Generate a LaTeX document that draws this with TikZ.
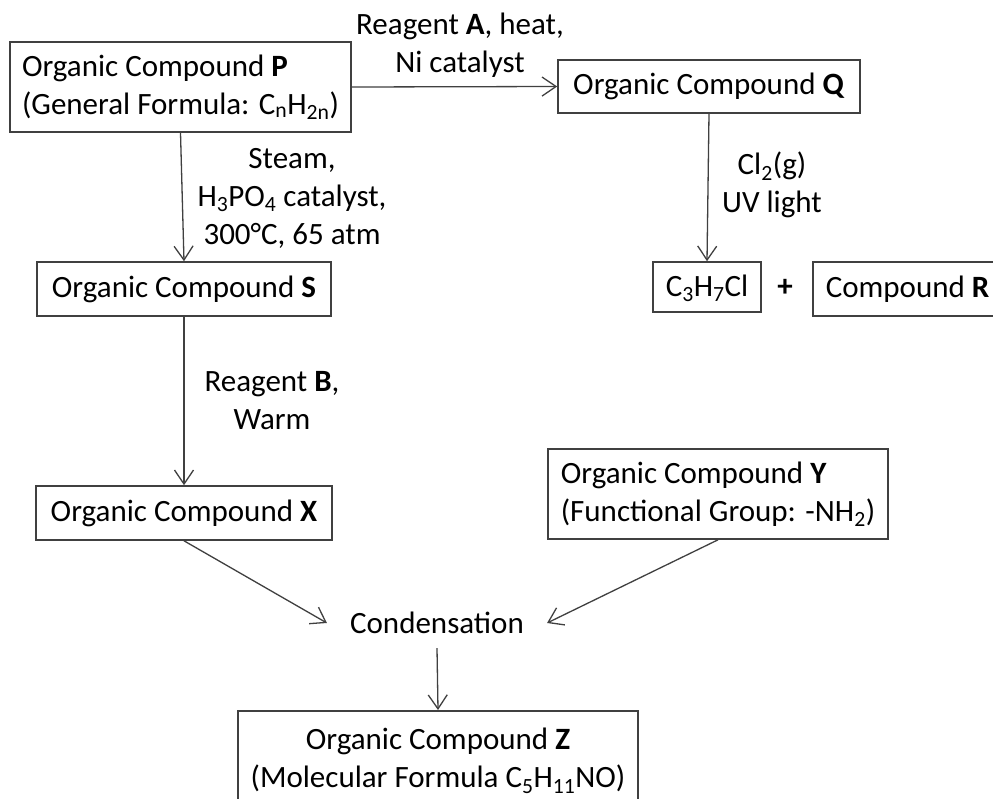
\documentclass[tikz,border=0pt]{standalone}
\usepackage{fontspec}
\setmainfont{Carlito}
\usetikzlibrary{arrows.meta}
\definecolor{lineg}{HTML}{404040}
\begin{document}
\begin{tikzpicture}[x=1pt,y=-1pt,
  every node/.style={font=\fontsize{31}{38}\selectfont, text=black},
  box/.style={draw=lineg, line width=1.6pt, inner sep=0pt},
  lbl/.style={align=center, inner sep=0pt},
  arr/.style={draw=lineg, line width=1.3pt, -{Straight Barb[length=14pt,width=19pt,line width=1.3pt]}}]
\useasboundingbox (0,0) rectangle (993,798);
\clip (0,0) rectangle (993,798);
\fill[white] (0,0) rectangle (993,798);
% boxes
\node[box, minimum width=341pt, minimum height=90pt, align=left] (P) at (180.5,87)
  {Organic Compound \textbf{P}\\(General Formula: C\textsubscript{n}H\textsubscript{2n})};
\node[box, minimum width=302pt, minimum height=53pt] (Q) at (709,86.5) {Organic Compound \textbf{Q}};
\node[box, minimum width=294pt, minimum height=54pt] (S) at (184,289) {Organic Compound \textbf{S}};
\node[box, minimum width=108pt, minimum height=50pt, text height=21pt, text depth=3pt] (C) at (707,287) {C\textsubscript{3}H\textsubscript{7}Cl};
\node[inner sep=0pt] (plus) at (785,288) {\textbf{+}};
\node[box, anchor=west, minimum height=54pt, inner xsep=13pt, inner ysep=0pt] (R) at (812,289) {Compound \textbf{R}\hspace{40pt}};
\node[box, minimum width=296pt, minimum height=54pt] (X) at (184,513) {Organic Compound \textbf{X}};
\node[box, minimum width=340pt, minimum height=90pt, align=left] (Y) at (718,494)
  {Organic Compound \textbf{Y}\\(Functional Group: -NH\textsubscript{2})};
\node[inner xsep=23pt, inner ysep=14pt] (cond) at (437,623) {Condensation};
\node[box, anchor=north, minimum width=400pt, minimum height=100pt, align=center] (Z) at (438,710)
  {Organic Compound \textbf{Z}\\(Molecular Formula C\textsubscript{5}H\textsubscript{11}NO)};
% labels
\node[lbl] (lA) at (460,45) {Reagent \textbf{A}, heat,\\Ni catalyst};
\node[lbl] (lSteam) at (292,198) {Steam,\\H\textsubscript{3}PO\textsubscript{4} catalyst,\\300°C, 65 atm};
\node[lbl] (lCl) at (772,185) {Cl\textsubscript{2}(g)\\UV light};
\node[lbl] (lB) at (272,401) {Reagent \textbf{B},\\Warm};
% connectors
\draw[arr] (P.east) -- (Q.west);
\draw[arr] (P.south) -- (S.north);
\draw[arr] (Q.south) -- (C.north);
\draw[arr] (S.south) -- (X.north);
\draw[arr] (X.south) -- (cond.west);
\draw[arr] (Y.south) -- (cond.east);
\draw[arr] (cond.south) -- (Z.north);
\end{tikzpicture}
\end{document}
